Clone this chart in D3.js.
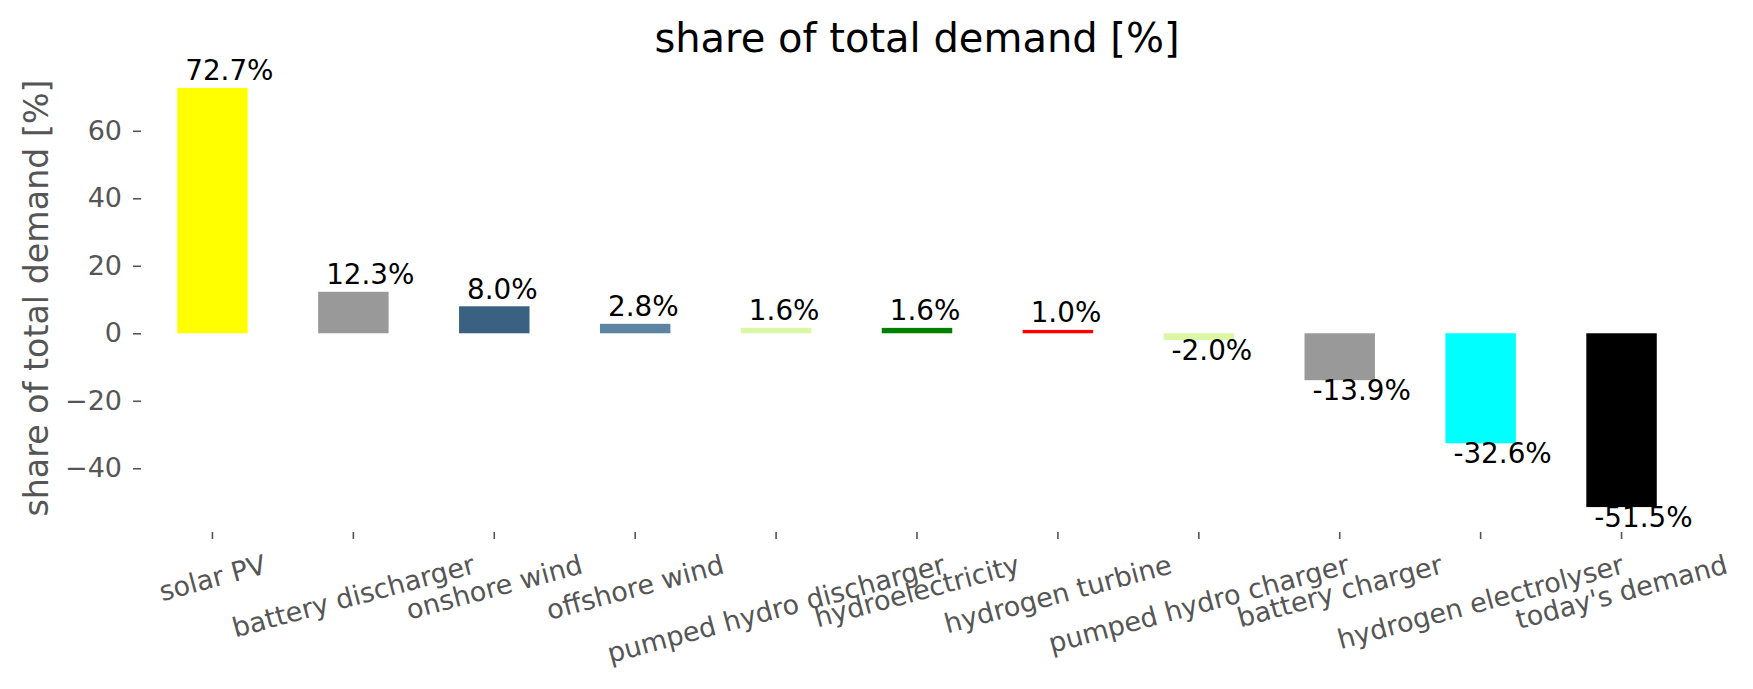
<!DOCTYPE html>
<html>
<head>
<meta charset="utf-8">
<script src="https://d3js.org/d3.v7.min.js"></script>
<style>
  body { margin: 0; background: #fff; }
  svg text { font-family: "DejaVu Sans", sans-serif; }
</style>
</head>
<body>
<svg id="chart" width="1753" height="689"></svg>
<script>
// data
var categories = ["solar PV", "battery discharger", "onshore wind", "offshore wind",
  "pumped hydro discharger", "hydroelectricity", "hydrogen turbine",
  "pumped hydro charger", "battery charger", "hydrogen electrolyser", "today's demand"];
var shares = [72.7, 12.3, 8.0, 2.8, 1.6, 1.6, 1.0, -2.0, -13.9, -32.6, -51.5];
var barColors = ["#ffff00", "#999999", "#3b6182", "#5d84a3", "#daf7a6", "#008000",
  "#ff0000", "#daf7a6", "#999999", "#00ffff", "#000000"];
var yTicks = [-40, -20, 0, 20, 40, 60];

var svg = d3.select("#chart");

// scales
var x = d3.scaleBand()
  .domain(categories)
  .range([142, 1692])
  .paddingInner(0.5)
  .paddingOuter(0.25);

var y = d3.scaleLinear()
  .domain([-57.7, 78.9])
  .range([528, 67]);

var grey = "#555555";

// y axis
var yAxis = svg.append("g")
  .attr("transform", "translate(141,0)")
  .call(d3.axisLeft(y).tickValues(yTicks).tickSize(8).tickPadding(11)
    .tickFormat(function(d){ return d < 0 ? "\u2212" + Math.abs(d) : d; }));
yAxis.select(".domain").remove();
yAxis.selectAll("line").attr("stroke", grey).attr("stroke-width", 1.6);
yAxis.selectAll("text").attr("fill", grey).style("font-size", "27px");

// x axis
var xAxis = svg.append("g")
  .attr("transform", "translate(0,532)")
  .call(d3.axisBottom(x).tickSize(7).tickFormat(""));
xAxis.select(".domain").remove();
xAxis.selectAll("line").attr("stroke", grey).attr("stroke-width", 1.6);

// rotated tick labels, top of the rotated box hangs under the tick
var ang = 15 * Math.PI / 180;
var labelSize = 27;
xAxis.selectAll(".tick").each(function(d) {
  var t = d3.select(this).append("text")
    .attr("fill", grey)
    .attr("text-anchor", "middle")
    .style("font-size", labelSize + "px")
    .attr("dy", "0.346em")
    .text(d);
  var L = t.node().getComputedTextLength();
  var H = labelSize * 1.164;
  var bh = L * Math.sin(ang) + H * Math.cos(ang);
  t.attr("transform", "translate(0," + (7 + 9.7 + bh / 2) + ") rotate(-15)");
});

// bars
svg.append("g").selectAll("rect")
  .data(shares)
  .enter().append("rect")
    .attr("x", function(d, i){ return x(categories[i]); })
    .attr("y", function(d){ return y(Math.max(0, d)); })
    .attr("width", x.bandwidth())
    .attr("height", function(d){ return Math.abs(y(d) - y(0)); })
    .attr("fill", function(d, i){ return barColors[i]; });

// value labels
svg.append("g").selectAll("text")
  .data(shares)
  .enter().append("text")
    .attr("x", function(d, i){ return x(categories[i]) + 8; })
    .attr("y", function(d){ return d >= 0 ? y(d) - 7.5 : y(d) + 20; })
    .attr("fill", "#000")
    .style("font-size", "27.8px")
    .text(function(d){ return d.toFixed(1) + "%"; });

// title
svg.append("text")
  .attr("x", (x(categories[0]) + x(categories[categories.length - 1]) + x.bandwidth()) / 2)
  .attr("y", 52)
  .attr("text-anchor", "middle")
  .attr("fill", "#000")
  .style("font-size", "40px")
  .text("share of total demand [%]");

// y label
svg.append("text")
  .attr("transform", "translate(48,298) rotate(-90)")
  .attr("text-anchor", "middle")
  .attr("fill", grey)
  .style("font-size", "33.3px")
  .text("share of total demand [%]");
</script>
</body>
</html>
